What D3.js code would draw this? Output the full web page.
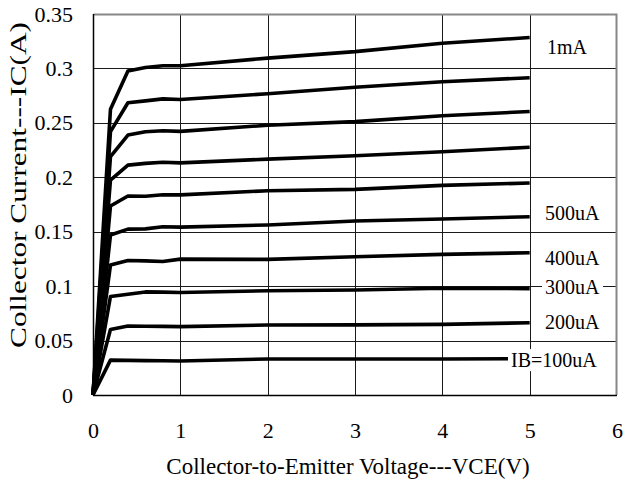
<!DOCTYPE html>
<html>
<head>
<meta charset="utf-8">
<script src="https://cdn.jsdelivr.net/npm/d3@7"></script>
<style>
  body { margin: 0; background: #fff; }
  svg { display: block; }
  text { font-family: "Liberation Serif", "Times New Roman", serif; fill: #000; }
</style>
</head>
<body>
<div id="chart"></div>
<script>
  // VCE sample points (V)
  var vce = [0, 0.2, 0.4, 0.6, 0.8, 1, 2, 3, 4, 5];

  // IC (A) per base current
  var ic100uA = [0, 0.0320, 0.0318, 0.0316, 0.0315, 0.0313, 0.0331, 0.0331, 0.0331, 0.0333];
  var ic200uA = [0, 0.0602, 0.0634, 0.0632, 0.0630, 0.0628, 0.0643, 0.0644, 0.0649, 0.0664];
  var ic300uA = [0, 0.0905, 0.0926, 0.0947, 0.0945, 0.0941, 0.0958, 0.0965, 0.0980, 0.0977];
  var ic400uA = [0, 0.1194, 0.1236, 0.1232, 0.1226, 0.1248, 0.1246, 0.1270, 0.1292, 0.1307];
  var ic500uA = [0, 0.1470, 0.1524, 0.1526, 0.1545, 0.1542, 0.1562, 0.1598, 0.1617, 0.1638];
  var ic600uA = [0, 0.1736, 0.1828, 0.1826, 0.1840, 0.1838, 0.1877, 0.1889, 0.1926, 0.1947];
  var ic700uA = [0, 0.1975, 0.2112, 0.2128, 0.2138, 0.2132, 0.2167, 0.2198, 0.2235, 0.2276];
  var ic800uA = [0, 0.2190, 0.2388, 0.2418, 0.2428, 0.2422, 0.2478, 0.2511, 0.2566, 0.2604];
  var ic900uA = [0, 0.2420, 0.2685, 0.2702, 0.2720, 0.2715, 0.2768, 0.2827, 0.2878, 0.2915];
  var ic1mA   = [0, 0.2624, 0.2976, 0.3008, 0.3025, 0.3025, 0.3095, 0.3154, 0.3231, 0.3284];

  var seriesValues = [ic100uA, ic200uA, ic300uA, ic400uA, ic500uA, ic600uA, ic700uA, ic800uA, ic900uA, ic1mA];
  // label text per series ('' = unlabeled)
  var seriesLabels = ['IB=100uA', '200uA', '300uA', '400uA', '500uA', '', '', '', '', '1mA'];

  var xTicks = [0, 1, 2, 3, 4, 5, 6];
  var yTicks = [0, 0.05, 0.1, 0.15, 0.2, 0.25, 0.3, 0.35];

  var width = 625, height = 484;
  var margin = { top: 14, right: 8, bottom: 89, left: 93 };
  var plotW = width - margin.left - margin.right;
  var plotH = height - margin.top - margin.bottom;

  var svg = d3.select('#chart').append('svg')
    .attr('width', width)
    .attr('height', height);

  var g = svg.append('g')
    .attr('transform', 'translate(' + margin.left + ',' + margin.top + ')');

  var x = d3.scaleLinear().domain([0, 6]).range([0, plotW]);
  var y = d3.scaleLinear().domain([0, 0.35]).range([plotH, 0]);

  // gridlines
  g.append('g').selectAll('line.hgrid')
    .data(yTicks.slice(1, -1))
    .enter().append('line')
    .attr('x1', 0).attr('x2', plotW)
    .attr('y1', function(d) { return Math.round(y(d)) + 0.5; })
    .attr('y2', function(d) { return Math.round(y(d)) + 0.5; })
    .attr('stroke', '#1a1a1a')
    .attr('stroke-width', 1);

  g.append('g').selectAll('line.vgrid')
    .data(xTicks.slice(1, -1))
    .enter().append('line')
    .attr('y1', 0).attr('y2', plotH)
    .attr('x1', function(d) { return Math.round(x(d)) + 0.5; })
    .attr('x2', function(d) { return Math.round(x(d)) + 0.5; })
    .attr('stroke', '#1a1a1a')
    .attr('stroke-width', 1);

  // top and right frame
  g.append('path')
    .attr('d', 'M0.5,0.5H' + (plotW - 0.5) + 'V' + plotH)
    .attr('fill', 'none')
    .attr('stroke', '#888')
    .attr('stroke-width', 2);

  // curves
  var line = d3.line()
    .x(function(d, i) { return x(vce[i]); })
    .y(function(d) { return y(d); });

  g.append('g').selectAll('path.curve')
    .data(seriesValues)
    .enter().append('path')
    .attr('class', 'curve')
    .attr('d', line)
    .attr('fill', 'none')
    .attr('stroke', '#000')
    .attr('stroke-width', 3.6)
    .attr('stroke-linejoin', 'round');

  // axes
  var yAxis = g.append('g')
    .call(d3.axisLeft(y).tickValues(yTicks).tickSize(0).tickPadding(20)
      .tickFormat(function(d) { return d === 0 ? '0' : String(+d.toFixed(2)); }));
  yAxis.select('.domain').remove();
  yAxis.selectAll('text').style('font-size', '22px').style('font-family', 'Liberation Serif');

  var xAxis = g.append('g')
    .attr('transform', 'translate(0,' + plotH + ')')
    .call(d3.axisBottom(x).tickValues(xTicks).tickSize(0).tickPadding(27).tickFormat(d3.format('d')));
  xAxis.select('.domain').remove();
  xAxis.selectAll('text').style('font-size', '22px').style('font-family', 'Liberation Serif');

  // axis lines
  g.append('line')
    .attr('x1', 0.5).attr('x2', 0.5).attr('y1', 0).attr('y2', plotH + 0.5)
    .attr('stroke', '#000').attr('stroke-width', 1.5);
  g.append('line')
    .attr('x1', 0).attr('x2', plotW).attr('y1', plotH + 0.5).attr('y2', plotH + 0.5)
    .attr('stroke', '#000').attr('stroke-width', 1.5);

  // series labels, with white boxes like the original
  var labelPos = [
    { s: 0, lx: 511, ly: 360.5 },
    { s: 1, lx: 545, ly: 322.5 },
    { s: 2, lx: 545, ly: 287.5 },
    { s: 3, lx: 545, ly: 258.5 },
    { s: 4, lx: 545, ly: 213 },
    { s: 9, lx: 547, ly: 47 }
  ];

  var labels = svg.append('g').selectAll('g.lab')
    .data(labelPos)
    .enter().append('g')
    .attr('class', 'lab');

  labels.append('rect').attr('fill', '#fff');
  labels.append('text')
    .attr('x', function(d) { return d.lx; })
    .attr('y', function(d) { return d.ly; })
    .attr('dy', '0.33em')
    .style('font-size', '20px')
    .text(function(d) { return seriesLabels[d.s]; });

  labels.each(function() {
    var grp = d3.select(this);
    var bb = grp.select('text').node().getBBox();
    grp.select('rect')
      .attr('x', bb.x - 3).attr('y', bb.y)
      .attr('width', bb.width + 6).attr('height', bb.height);
  });

  // axis titles
  svg.append('text')
    .attr('x', 348)
    .attr('y', 474)
    .attr('text-anchor', 'middle')
    .style('font-size', '23px')
    .text('Collector-to-Emitter Voltage---VCE(V)');

  svg.append('text')
    .attr('transform', 'translate(26,185) rotate(-90)')
    .attr('text-anchor', 'middle')
    .attr('textLength', 326)
    .attr('lengthAdjust', 'spacingAndGlyphs')
    .style('font-size', '24px')
    .text('Collector Current---IC(A)');
</script>
</body>
</html>
